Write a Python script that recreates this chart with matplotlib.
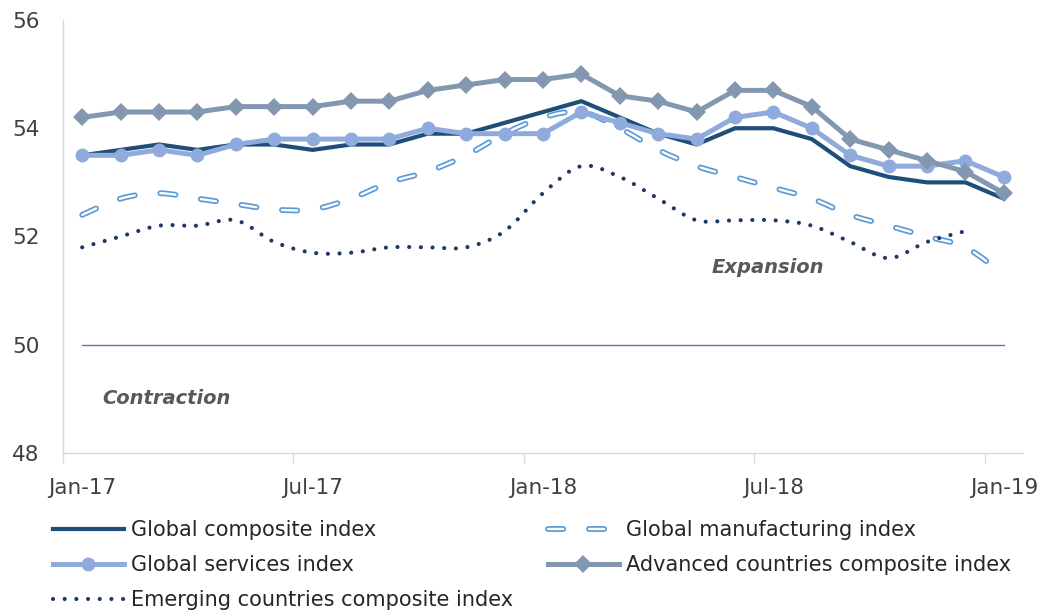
import numpy as np
import matplotlib
matplotlib.use("Agg")
import matplotlib.pyplot as plt
from matplotlib.path import Path
from matplotlib.patches import PathPatch
from matplotlib.lines import Line2D

# ---------------- data ----------------
months = ["Jan-17", "Feb-17", "Mar-17", "Apr-17", "May-17", "Jun-17", "Jul-17", "Aug-17",
          "Sep-17", "Oct-17", "Nov-17", "Dec-17", "Jan-18", "Feb-18", "Mar-18", "Apr-18",
          "May-18", "Jun-18", "Jul-18", "Aug-18", "Sep-18", "Oct-18", "Nov-18", "Dec-18",
          "Jan-19"]
tick_labels = ["Jan-17", "Jul-17", "Jan-18", "Jul-18", "Jan-19"]

composite = [53.5, 53.6, 53.7, 53.6, 53.7, 53.7, 53.6, 53.7, 53.7, 53.9, 53.9, 54.1,
             54.3, 54.5, 54.2, 53.9, 53.7, 54.0, 54.0, 53.8, 53.3, 53.1, 53.0, 53.0,
             52.7]
manufacturing = [52.4, 52.7, 52.8, 52.7, 52.6, 52.5, 52.5, 52.7, 53.0, 53.2, 53.5, 53.9,
                 54.2, 54.3, 54.0, 53.6, 53.3, 53.1, 52.9, 52.7, 52.4, 52.2, 52.0, 51.8,
                 51.3]
services = [53.5, 53.5, 53.6, 53.5, 53.7, 53.8, 53.8, 53.8, 53.8, 54.0, 53.9, 53.9,
            53.9, 54.3, 54.1, 53.9, 53.8, 54.2, 54.3, 54.0, 53.5, 53.3, 53.3, 53.4,
            53.1]
advanced = [54.2, 54.3, 54.3, 54.3, 54.4, 54.4, 54.4, 54.5, 54.5, 54.7, 54.8, 54.9,
            54.9, 55.0, 54.6, 54.5, 54.3, 54.7, 54.7, 54.4, 53.8, 53.6, 53.4, 53.2,
            52.8]
emerging = [51.8, 52.0, 52.2, 52.2, 52.3, 51.9, 51.7, 51.7, 51.8, 51.8, 51.8, 52.1,
            52.8, 53.3, 53.1, 52.7, 52.3, 52.3, 52.3, 52.2, 51.9, 51.6, 51.9, 52.1,
            np.nan]
threshold = 50

series_names = ["Global composite index", "Global manufacturing index",
                "Global services index", "Advanced countries composite index",
                "Emerging countries composite index"]

# ---------------- style ----------------
plt.rcParams['font.family'] = ['DejaVu Sans']
plt.rcParams['lines.scale_dashes'] = False

C_COMP = "#1F4E79"
C_MANU = "#5B9BD5"
C_SERV = "#8FAADC"
C_ADV = "#8497B0"
C_EMER = "#1F3864"
C_THR = "#5A7AB0"
C_SPINE = "#D9D9D9"
C_TICK = "#404040"
C_NOTE = "#595959"

fig = plt.figure(figsize=(10.43, 6.10), dpi=100)
ax = fig.add_axes([63 / 1043, 1 - 453 / 610, (1023 - 63) / 1043, (453 - 20) / 610])
ax.set_xlim(-0.5, len(months) - 0.5)
ax.set_ylim(48, 56)

x = np.arange(len(months))


def smooth_path(xs, ys):
    pts = [(a, b) for a, b in zip(xs, ys) if not np.isnan(b)]
    verts = [pts[0]]
    codes = [Path.MOVETO]
    n = len(pts)
    for i in range(n - 1):
        p0 = pts[i - 1] if i > 0 else pts[i]
        p1 = pts[i]
        p2 = pts[i + 1]
        p3 = pts[i + 2] if i + 2 < n else pts[i + 1]
        c1 = (p1[0] + (p2[0] - p0[0]) / 6, p1[1] + (p2[1] - p0[1]) / 6)
        c2 = (p2[0] - (p3[0] - p1[0]) / 6, p2[1] - (p3[1] - p1[1]) / 6)
        verts += [c1, c2, p2]
        codes += [Path.CURVE4] * 3
    return Path(verts, codes)


# threshold line at 50
ax.plot(x, [threshold] * len(x), color=C_THR, lw=1.0, zorder=1)

# Global composite
ax.plot(x, composite, color=C_COMP, lw=3.0, solid_joinstyle='round', zorder=2)

# Global manufacturing (smoothed, double-outlined dashes)
DASH = (0, (11, 18.5))
OUT_LW, IN_LW = 4.2, 1.7
mpath = smooth_path(x, np.array(manufacturing, dtype=float))
ax.add_patch(PathPatch(mpath, facecolor='none', edgecolor=C_MANU, lw=OUT_LW,
                       linestyle=DASH, capstyle='round', zorder=3))
ax.add_patch(PathPatch(mpath, facecolor='none', edgecolor='white', lw=IN_LW,
                       linestyle=DASH, capstyle='round', zorder=3.1))

# Global services
ax.plot(x, services, color=C_SERV, lw=3.6, marker='o', markersize=10,
        markeredgewidth=0, solid_joinstyle='round', zorder=4)

# Advanced countries
ax.plot(x, advanced, color=C_ADV, lw=3.6, marker='D', markersize=9,
        markeredgewidth=0, solid_joinstyle='round', zorder=5)

# Emerging countries (smoothed, dotted)
DOT = (0, (0.01, 8.4))
epath = smooth_path(x, np.array(emerging, dtype=float))
ax.add_patch(PathPatch(epath, facecolor='none', edgecolor=C_EMER, lw=3.0,
                       linestyle=DOT, capstyle='round', zorder=6))

# annotations
ax.text(17.85, 51.42, "Expansion", ha='center', va='center', fontsize=14,
        fontweight='bold', fontstyle='italic', color=C_NOTE)
ax.text(2.19, 49.0, "Contraction", ha='center', va='center', fontsize=14,
        fontweight='bold', fontstyle='italic', color=C_NOTE)

# axes styling
for s in ['top', 'right']:
    ax.spines[s].set_visible(False)
for s in ['left', 'bottom']:
    ax.spines[s].set_color(C_SPINE)
    ax.spines[s].set_linewidth(1.0)

ax.set_yticks([48, 50, 52, 54, 56])
ax.tick_params(axis='y', length=0, pad=17, labelsize=15.5, labelcolor=C_TICK)

tick_pos = [months.index(t) for t in tick_labels]
ax.set_xticks(tick_pos)
ax.set_xticklabels(tick_labels)
ax.set_xticks([p - 0.5 for p in tick_pos], minor=True)
ax.tick_params(axis='x', which='major', length=0, pad=18, labelsize=15.5,
               labelcolor=C_TICK)
ax.tick_params(axis='x', which='minor', length=7, width=1.0, color=C_SPINE)

# legend
h_comp = Line2D([], [], color=C_COMP, lw=3.0)
h_manu = (Line2D([], [], color=C_MANU, lw=OUT_LW, linestyle=DASH, dash_capstyle='round'),
          Line2D([], [], color='white', lw=IN_LW, linestyle=DASH, dash_capstyle='round'))
h_serv = Line2D([], [], color=C_SERV, lw=3.6, marker='o', markersize=10, markeredgewidth=0)
h_adv = Line2D([], [], color=C_ADV, lw=3.6, marker='D', markersize=9, markeredgewidth=0)
h_emer = Line2D([], [], color=C_EMER, lw=3.0, linestyle=DOT, dash_capstyle='round')

leg_kw = dict(loc='upper left', frameon=False, fontsize=15, handlelength=3.4,
              handletextpad=0.33, labelspacing=0.72, borderpad=0, borderaxespad=0,
              numpoints=1, labelcolor='#262626')
fig.legend([h_comp, h_serv, h_emer],
           [series_names[0], series_names[2], series_names[4]],
           bbox_to_anchor=(53 / 1043, 1 - 520 / 610), **leg_kw)
fig.legend([h_manu, h_adv],
           [series_names[1], series_names[3]],
           bbox_to_anchor=(548 / 1043, 1 - 520 / 610), **leg_kw)

fig.savefig("out.png", dpi=100, facecolor='white')
